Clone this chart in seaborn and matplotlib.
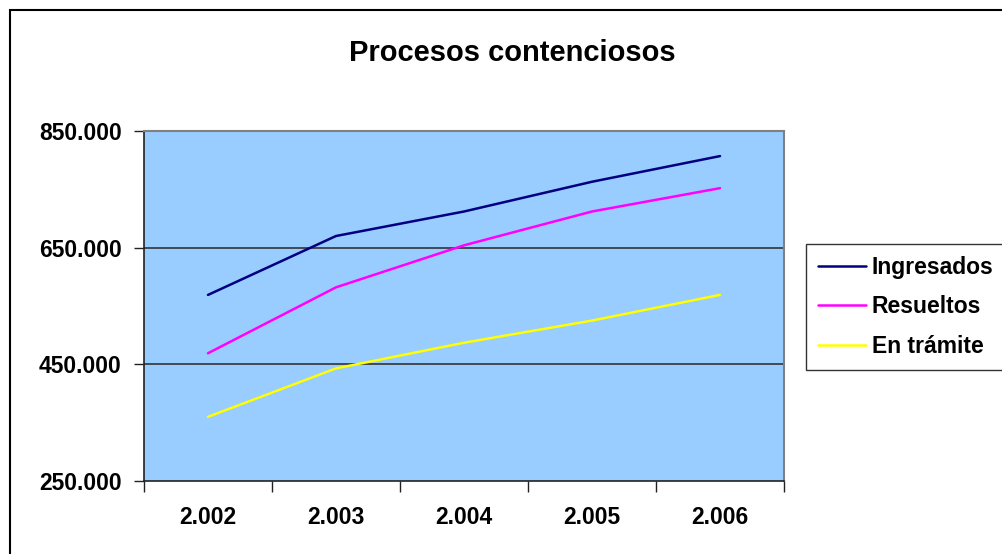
import matplotlib
matplotlib.use("Agg")
import matplotlib.pyplot as plt
import seaborn as sns
import numpy as np
import pandas as pd
from matplotlib.patches import Rectangle

sns.set_theme(style="white")
plt.rcParams['font.family'] = ['Liberation Sans', 'DejaVu Sans']
plt.rcParams['text.color'] = 'black'
plt.rcParams['xtick.color'] = 'black'
plt.rcParams['ytick.color'] = 'black'

years = ["2.002", "2.003", "2.004", "2.005", "2.006"]
ingresados = [569000, 670000, 712000, 763000, 807000]
resueltos = [469000, 582000, 654000, 712000, 752000]
en_tramite = [360000, 443000, 487000, 525000, 569000]
series_names = ["Ingresados", "Resueltos", "En trámite"]
colors = ["#000080", "#FF00FF", "#FFFF00"]

df = pd.DataFrame({
    "year": years * 3,
    "value": ingresados + resueltos + en_tramite,
    "serie": [n for n in series_names for _ in years],
})

fig = plt.figure(figsize=(10.03, 5.54), dpi=100)
ax = fig.add_axes([144 / 1003, 1 - 481 / 554, 640 / 1003, 350 / 554])
ax.set_facecolor("#99CCFF")

sns.lineplot(data=df, x="year", y="value", hue="serie", palette=colors,
             linewidth=1.8, ax=ax, legend=False, sort=False)

ax.set_ylim(250000, 850000)
ax.set_xlim(-0.5, 4.5)
yt = [250000, 450000, 650000, 850000]
ax.set_yticks(yt)
ax.set_yticklabels([f"{v:,}".replace(",", ".") for v in yt],
                   fontsize=16.5, fontweight="bold")
for v in yt[1:3]:
    ax.axhline(v, color="#333333", linewidth=1.2, zorder=1)

ax.set_xticks(np.arange(-0.5, 5, 1))
ax.set_xticklabels([])
ax.set_xticks(range(len(years)), minor=True)
ax.set_xticklabels(years, minor=True, fontsize=16.5, fontweight="bold")
ax.tick_params(axis="x", which="major", direction="out", length=8,
               width=1, color="#222222", bottom=True)
ax.tick_params(axis="x", which="minor", length=0, pad=18)
ax.tick_params(axis="y", direction="out", length=7, width=1,
               color="#222222", left=True, pad=9)
ax.set_xlabel("")
ax.set_ylabel("")

for side in ["left", "bottom"]:
    ax.spines[side].set_color("#222222")
    ax.spines[side].set_linewidth(1.2)
for side in ["top", "right"]:
    ax.spines[side].set_color("#808080")
    ax.spines[side].set_linewidth(1.5)

fig.text(512 / 1003, 1 - 53 / 554, "Procesos contenciosos",
         ha="center", va="center", fontsize=21, fontweight="bold")

# outer chart border (cut off at right and bottom)
fig.patches.append(Rectangle((10 / 1003, -0.05), 1.1, 1 - 10 / 554 + 0.05,
                             transform=fig.transFigure, fill=False,
                             edgecolor="black", linewidth=1.5))

handles = [plt.Line2D([], [], color=c, linewidth=1.8) for c in colors]
leg = fig.legend(handles, series_names, loc="upper left",
                 bbox_to_anchor=(806 / 1003, 1 - 244 / 554),
                 prop={"size": 16.5, "weight": "bold"}, frameon=True,
                 fancybox=False, edgecolor="black", handlelength=2.1,
                 handletextpad=0.26, labelspacing=0.72, borderpad=0.52,
                 borderaxespad=0)
leg.get_frame().set_linewidth(1.0)

fig.savefig("out.png", dpi=100)
